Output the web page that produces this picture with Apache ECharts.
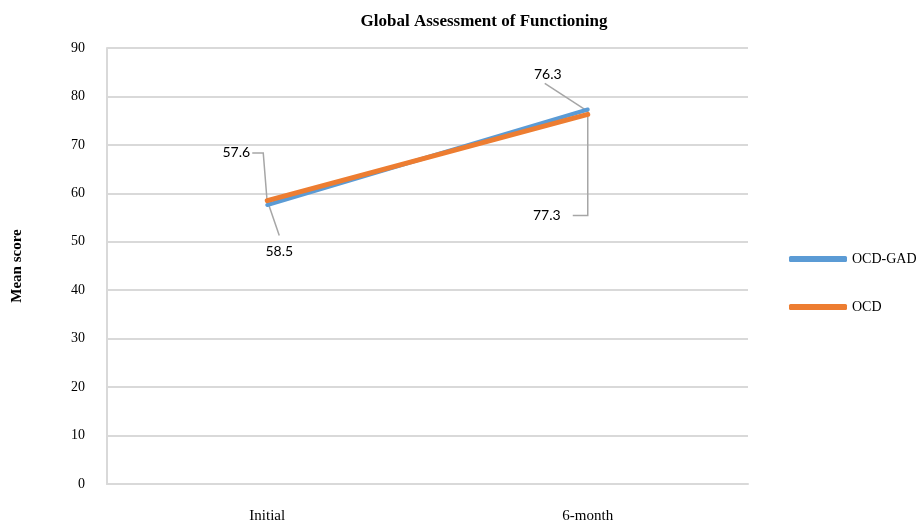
<!DOCTYPE html>
<html>
<head>
<meta charset="utf-8">
<script src="https://cdn.jsdelivr.net/npm/echarts@6/dist/echarts.min.js"></script>
<style>
  html, body { margin: 0; padding: 0; background: #fff; }
  #main { width: 920px; height: 524px; }
</style>
</head>
<body>
<div id="main"></div>
<script>
// data
const categories = ['Initial', '6-month'];
const ocdGad = [57.6, 77.3];
const ocd = [58.5, 76.3];
const yTicks = [0, 10, 20, 30, 40, 50, 60, 70, 80, 90];

// callout placement (pixel offsets from the point), one per data point
const calloutLayout = {
  'OCD-GAD': [
    { path: [[0, -2], [-4, -52], [-15, -52]], text: [-31, -52], align: 'center' },
    { path: [[0, 0], [0, 106], [-15, 106]], text: [-41, 106], align: 'center' }
  ],
  'OCD': [
    { path: [[0, 0], [12, 35]], text: [12, 51], align: 'center' },
    { path: [[-3, -5], [-43, -31]], text: [-40, -40], align: 'center' }
  ]
};

const serif = 'Liberation Serif';
const labelFont = 'Lato';

function calloutSeries(name, values) {
  return {
    name: name + '-callout',
    type: 'custom',
    coordinateSystem: 'cartesian2d',
    z: 1,
    silent: true,
    data: values.map((v, i) => [i, v]),
    renderItem: function (params, api) {
      const p = api.coord([api.value(0), api.value(1)]);
      const c = calloutLayout[name][params.dataIndex];
      return {
        type: 'group',
        children: [
          {
            type: 'polyline',
            shape: { points: c.path.map((q) => [p[0] + q[0], p[1] + q[1]]) },
            style: { stroke: '#a6a6a6', lineWidth: 1.5, fill: null }
          },
          {
            type: 'text',
            x: p[0] + c.text[0],
            y: p[1] + c.text[1],
            style: {
              text: api.value(1).toFixed(1),
              font: '14px ' + labelFont,
              fill: '#000',
              align: c.align,
              verticalAlign: 'middle'
            }
          }
        ]
      };
    }
  };
}

const chart = echarts.init(document.getElementById('main'));
chart.setOption({
  backgroundColor: '#fff',
  animation: false,
  title: {
    text: 'Global Assessment of Functioning',
    left: 479,
    top: 8,
    textAlign: 'center',
    textStyle: { fontFamily: serif, fontWeight: 'bold', fontSize: 17, color: '#000' }
  },
  grid: { left: 107, right: 172, top: 48, bottom: 40 },
  legend: {
    orient: 'vertical',
    left: 784,
    top: 247,
    itemWidth: 58,
    itemHeight: 6,
    itemGap: 34,
    icon: 'roundRect',
    data: ['OCD-GAD', 'OCD'],
    textStyle: { fontFamily: serif, fontSize: 14, color: '#000' }
  },
  xAxis: {
    type: 'category',
    data: categories,
    boundaryGap: true,
    axisTick: { show: false },
    axisLine: { lineStyle: { color: '#d9d9d9', width: 2 } },
    axisLabel: { margin: 25, fontFamily: serif, fontSize: 15, color: '#000' }
  },
  yAxis: {
    type: 'value',
    min: yTicks[0],
    max: yTicks[yTicks.length - 1],
    interval: 10,
    name: 'Mean score',
    nameLocation: 'middle',
    nameGap: 82,
    nameTextStyle: { fontFamily: serif, fontWeight: 'bold', fontSize: 15, color: '#000' },
    axisLine: { show: true, lineStyle: { color: '#d9d9d9', width: 2 } },
    axisTick: { show: false },
    splitLine: { lineStyle: { color: '#d9d9d9', width: 2 } },
    axisLabel: { margin: 22, fontFamily: serif, fontSize: 14, color: '#000' }
  },
  series: [
    calloutSeries('OCD-GAD', ocdGad),
    calloutSeries('OCD', ocd),
    {
      name: 'OCD-GAD',
      type: 'line',
      data: ocdGad,
      symbol: 'none',
      z: 3,
      color: '#5b9bd5',
      lineStyle: { width: 4, color: '#5b9bd5', cap: 'round' }
    },
    {
      name: 'OCD',
      type: 'line',
      data: ocd,
      symbol: 'none',
      z: 4,
      color: '#ed7d31',
      lineStyle: { width: 5, color: '#ed7d31', cap: 'round' }
    }
  ]
});
</script>
</body>
</html>
